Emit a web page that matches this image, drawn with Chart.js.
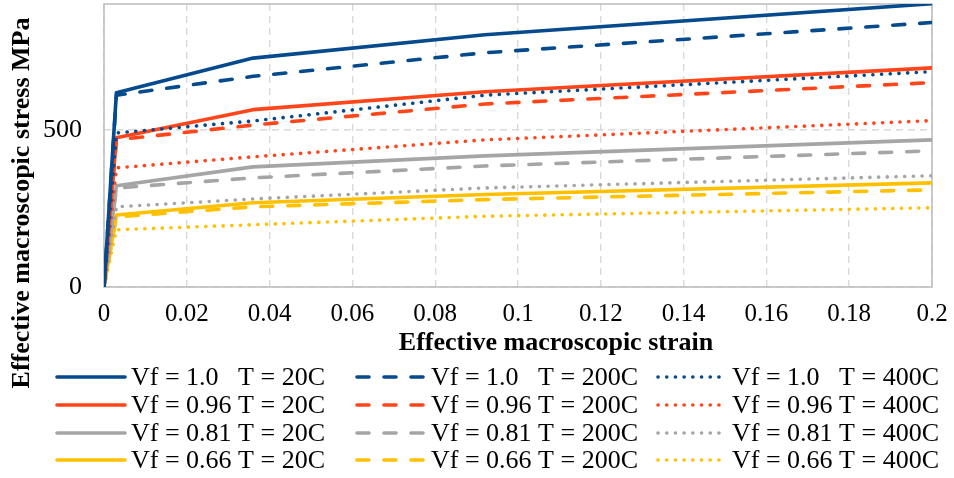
<!DOCTYPE html>
<html>
<head>
<meta charset="utf-8">
<script src="https://cdn.jsdelivr.net/npm/chart.js@4.4.0/dist/chart.umd.min.js"></script>
<style>
  html, body { margin: 0; padding: 0; background: #fff; }
  #wrap { width: 954px; height: 478px; position: relative; }
</style>
</head>
<body>
<div id="wrap"><canvas id="canvas"></canvas></div>
<script>
  // strain points shared by every curve
  const strain = [0, 0.003, 0.036, 0.092, 0.2];

  // stress (MPa) per fibre fraction / temperature
  const vf100_20 = [0, 618, 728, 802, 901];
  const vf100_200 = [0, 610, 670, 745, 841];
  const vf100_400 = [0, 490, 528, 610, 685];
  const vf096_20 = [0, 475, 564, 621, 697];
  const vf096_200 = [0, 468, 515, 582, 650];
  const vf096_400 = [0, 379, 414, 468, 529];
  const vf081_20 = [0, 322, 382, 417, 468];
  const vf081_200 = [0, 315, 347, 385, 433];
  const vf081_400 = [0, 255, 280, 315, 354];
  const vf066_20 = [0, 229, 268, 294, 331];
  const vf066_200 = [0, 223, 255, 278, 309];
  const vf066_400 = [0, 182, 198, 225, 252];

  const seriesLabels = [
    "Vf = 1.0   T = 20C", "Vf = 1.0   T = 200C", "Vf = 1.0   T = 400C",
    "Vf = 0.96 T = 20C", "Vf = 0.96 T = 200C", "Vf = 0.96 T = 400C",
    "Vf = 0.81 T = 20C", "Vf = 0.81 T = 200C", "Vf = 0.81 T = 400C",
    "Vf = 0.66 T = 20C", "Vf = 0.66 T = 200C", "Vf = 0.66 T = 400C"
  ];
  const seriesValues = [
    vf100_20, vf100_200, vf100_400,
    vf096_20, vf096_200, vf096_400,
    vf081_20, vf081_200, vf081_400,
    vf066_20, vf066_200, vf066_400
  ];

  // axis ticks
  const xTicks = [0, 0.02, 0.04, 0.06, 0.08, 0.1, 0.12, 0.14, 0.16, 0.18, 0.2];
  const yTicks = [0, 500];

  const colors = {
    blue: "#054A8C",
    red: "#FF4519",
    gray: "#A5A5A5",
    yellow: "#FFC000"
  };
  const rowColors = [colors.blue, colors.red, colors.gray, colors.yellow];
  const dashes = [[], [12, 15], [0.1, 8.6]];

  const serif = "'Liberation Serif', 'Times New Roman', serif";

  const datasets = seriesValues.map((vals, i) => ({
    label: seriesLabels[i],
    data: vals.map((v, j) => ({ x: strain[j], y: v })),
    borderColor: rowColors[Math.floor(i / 3)],
    borderWidth: 3.6,
    borderDash: dashes[i % 3],
    borderCapStyle: "round",
    borderJoinStyle: "round",
    pointRadius: 0,
    fill: false,
    tension: 0
  }));

  // plot frame, axis titles and the 3-column legend
  const decorations = {
    id: "decorations",
    beforeDatasetsDraw(chart) {
      const { ctx, chartArea: a } = chart;
      ctx.save();
      ctx.strokeStyle = "#BFBFBF";
      ctx.lineWidth = 1.6;
      ctx.strokeRect(a.left, a.top, a.right - a.left, a.bottom - a.top);
      ctx.restore();
    },
    afterDraw(chart) {
      const ctx = chart.ctx;
      ctx.save();
      ctx.fillStyle = "#000";
      ctx.textAlign = "center";
      ctx.textBaseline = "middle";
      ctx.font = "bold 26px " + serif;
      ctx.fillText("Effective macroscopic strain", 556, 343);

      ctx.translate(22, 203);
      ctx.rotate(-Math.PI / 2);
      ctx.fillText("Effective macroscopic stress MPa", 0, 0);
      ctx.restore();

      const colX = [55, 355, 656];
      const rowY = [377, 405, 433, 460];
      ctx.save();
      ctx.font = "26px " + serif;
      ctx.textBaseline = "middle";
      ctx.textAlign = "left";
      chart.data.datasets.forEach((ds, i) => {
        const x = colX[i % 3];
        const y = rowY[Math.floor(i / 3)];
        ctx.strokeStyle = ds.borderColor;
        ctx.lineWidth = ds.borderWidth;
        ctx.lineCap = "round";
        ctx.setLineDash(ds.borderDash);
        ctx.beginPath();
        ctx.moveTo(x + 2, y);
        ctx.lineTo(x + 70, y);
        ctx.stroke();
        ctx.setLineDash([]);
        ctx.fillStyle = "#000";
        ctx.fillText(ds.label, x + 76, y + 1);
      });
      ctx.restore();
    }
  };

  const gridDash = { color: "#D9D9D9", lineWidth: 1.4, drawTicks: false };

  const ctx = document.getElementById("canvas").getContext("2d");
  ctx.canvas.width = 954;
  ctx.canvas.height = 478;

  new Chart(ctx, {
    type: "line",
    data: { datasets },
    plugins: [decorations],
    options: {
      responsive: false,
      animation: false,
      layout: { padding: { top: 4, right: 22, left: 0, bottom: 0 } },
      plugins: { legend: { display: false }, tooltip: { enabled: false } },
      scales: {
        x: {
          type: "linear",
          min: 0,
          max: 0.2,
          grid: gridDash,
          border: { display: false, dash: [7, 5] },
          afterBuildTicks(scale) { scale.ticks = xTicks.map(v => ({ value: v })); },
          ticks: {
            padding: 12,
            color: "#000",
            font: { family: serif, size: 25 },
            maxRotation: 0,
            autoSkip: false,
            callback: v => String(Number(v.toFixed(2)))
          },
          afterFit(scale) {
            scale.height = 191;
            scale.paddingLeft = 0;
            scale.paddingRight = 0;
          }
        },
        y: {
          min: 0,
          max: 900,
          grid: gridDash,
          border: { display: false, dash: [7, 5] },
          afterBuildTicks(scale) { scale.ticks = yTicks.map(v => ({ value: v })); },
          ticks: {
            padding: 22,
            color: "#000",
            font: { family: serif, size: 26 },
            callback: v => String(v)
          },
          afterFit(scale) {
            scale.width = 104;
            scale.paddingTop = 0;
            scale.paddingBottom = 0;
          }
        }
      }
    }
  });
</script>
</body>
</html>
